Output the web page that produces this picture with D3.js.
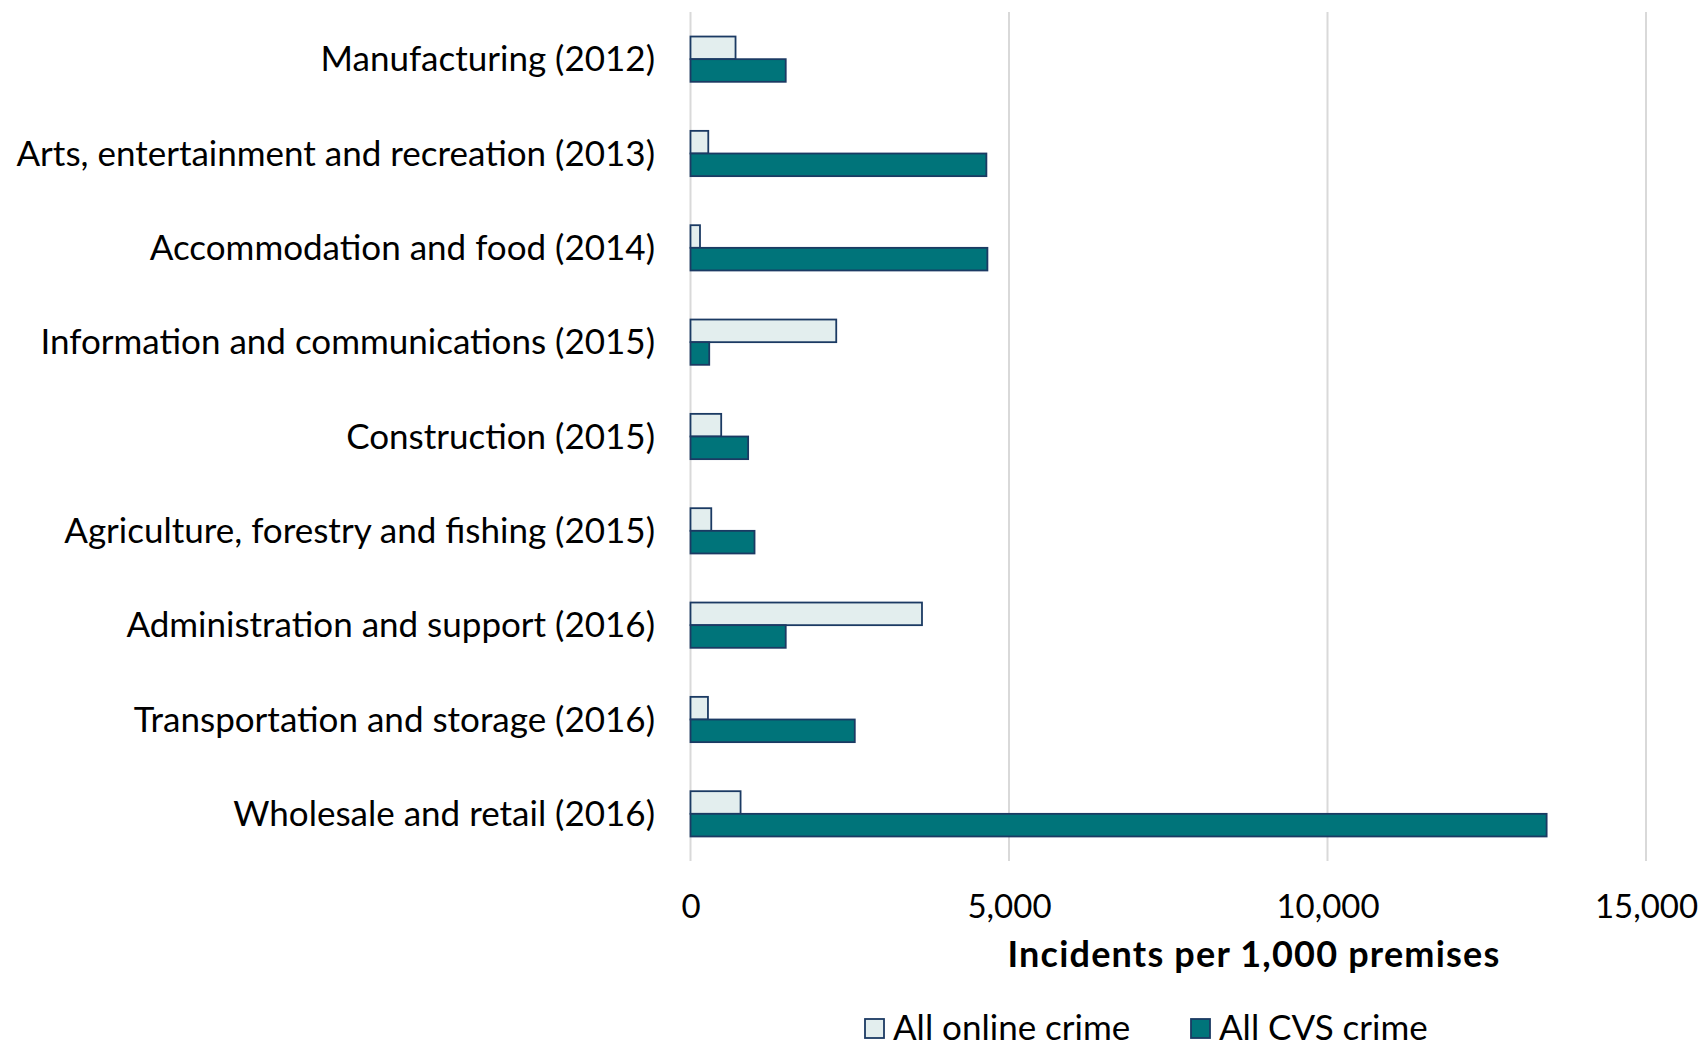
<!DOCTYPE html>
<html><head><meta charset="utf-8">
<script src="https://cdn.jsdelivr.net/npm/d3@7"></script>
<style>html,body{margin:0;padding:0;background:#fff;}svg{display:block;font-family:Lato,"Open Sans",sans-serif;}</style>
</head><body>
<svg id="chart" width="1701" height="1046"></svg>
<script>
const categories = [
  "Manufacturing (2012)",
  "Arts, entertainment and recreation (2013)",
  "Accommodation and food (2014)",
  "Information and communications (2015)",
  "Construction (2015)",
  "Agriculture, forestry and fishing (2015)",
  "Administration and support (2016)",
  "Transportation and storage (2016)",
  "Wholesale and retail (2016)"
];
const seriesNames = ["All online crime", "All CVS crime"];
const onlineCrime = [707, 279, 149, 2288, 482, 326, 3634, 274, 786];
const cvsCrime = [1495, 4645, 4661, 294, 905, 1005, 1495, 2579, 13440];
const xTicks = [0, 5000, 10000, 15000];
const axisTitle = "Incidents per 1,000 premises";

(function () {
const fills = ["#E3EEEE", "#00747A"];
const strokeCol = "#1B3A63";

const svg = d3.select("#chart");
const pLeft = 690.5, pRight = 1646, pTop = 12, pBottom = 861;

const x = d3.scaleLinear().domain([0, 15000]).range([pLeft, pRight]);
const y = d3.scaleBand().domain(categories).range([pTop, pBottom]).paddingInner(0.52).paddingOuter(0.26);
const ySub = d3.scaleBand().domain(seriesNames).range([0, y.bandwidth()]);

// gridlines
svg.append("g").selectAll("line").data(xTicks).join("line")
  .attr("x1", d => x(d)).attr("x2", d => x(d))
  .attr("y1", pTop).attr("y2", pBottom)
  .attr("stroke", "#D9D9D9").attr("stroke-width", 2);

// bars
const rows = categories.map((c, i) => ({c, vals: [onlineCrime[i], cvsCrime[i]]}));
const g = svg.append("g");
rows.forEach(r => {
  r.vals.forEach((v, j) => {
    g.append("rect")
      .attr("x", x(0))
      .attr("y", y(r.c) + ySub(seriesNames[j]))
      .attr("width", x(v) - x(0))
      .attr("height", ySub.bandwidth())
      .attr("fill", fills[j])
      .attr("stroke", strokeCol)
      .attr("stroke-width", 1.8);
  });
});

// category labels
svg.append("g").selectAll("text").data(categories).join("text")
  .attr("x", 655)
  .attr("y", d => y(d) + y.bandwidth() / 2)
  .attr("dy", "0.35em")
  .attr("text-anchor", "end")
  .attr("font-size", 35)
  .attr("fill", "#000")
  .text(d => d);

// x axis tick labels
const xAxis = d3.axisBottom(x).tickValues(xTicks).tickSize(0).tickPadding(0)
  .tickFormat(d3.format(","));
const ax = svg.append("g").attr("transform", `translate(0, ${pBottom + 34})`).call(xAxis);
ax.select(".domain").remove();
ax.selectAll("text").attr("font-size", 33).attr("fill", "#000").attr("font-family", "Lato, sans-serif");

// axis title
svg.append("text")
  .attr("x", 1254).attr("y", 967)
  .attr("text-anchor", "middle")
  .attr("font-size", 36).attr("font-weight", "bold").attr("fill", "#000")
  .attr("letter-spacing", 1.2)
  .text(axisTitle);

// legend
const legendX = [865, 1191];
const lg = svg.append("g");
seriesNames.forEach((s, j) => {
  lg.append("rect").attr("x", legendX[j]).attr("y", 1019).attr("width", 19).attr("height", 19)
    .attr("fill", fills[j]).attr("stroke", strokeCol).attr("stroke-width", 1.8);
  lg.append("text").attr("x", legendX[j] + 28).attr("y", 1040)
    .attr("font-size", 35).attr("fill", "#000").text(s);
});
})();
</script>
</body></html>
